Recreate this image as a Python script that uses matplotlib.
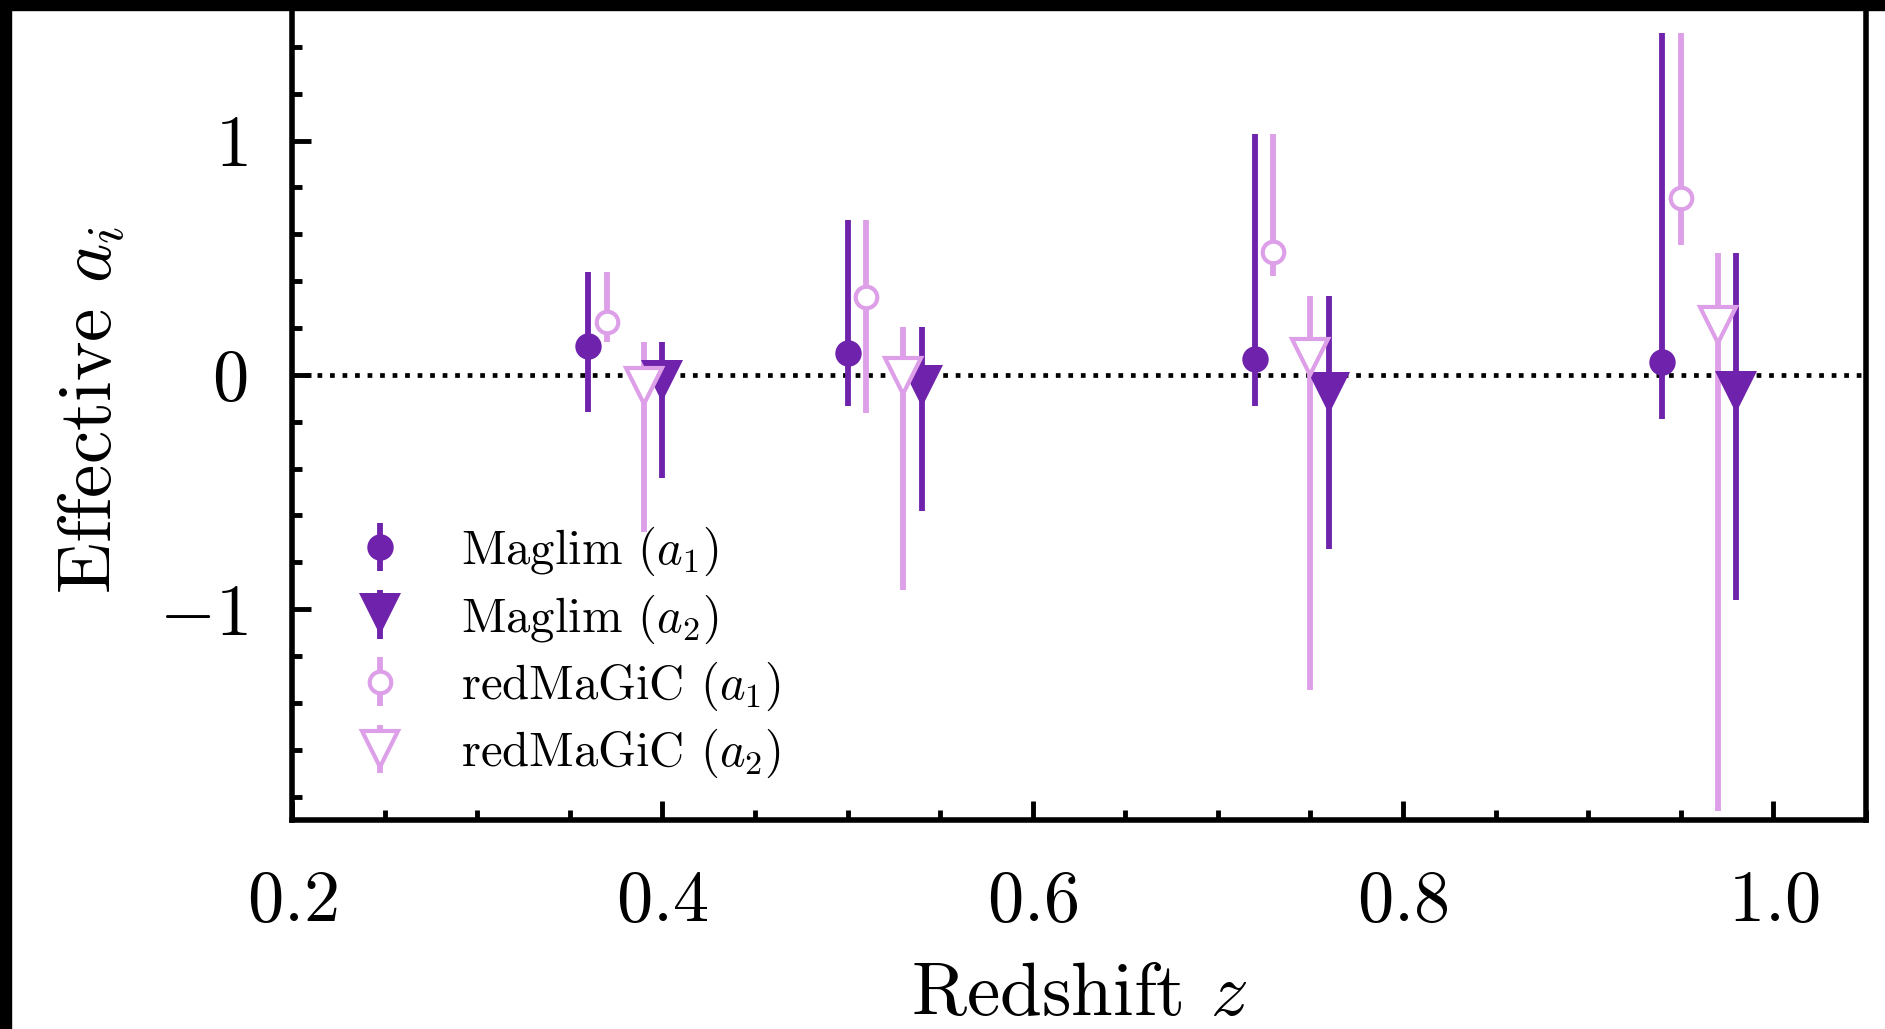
import numpy as np
import matplotlib
matplotlib.use("Agg")
import matplotlib.pyplot as plt
from matplotlib.patches import Rectangle
from matplotlib.ticker import MultipleLocator

plt.rcParams['font.family'] = 'serif'
plt.rcParams['font.serif'] = ['cmr10']
plt.rcParams['mathtext.fontset'] = 'cm'
plt.rcParams['axes.formatter.use_mathtext'] = True
plt.rcParams['axes.unicode_minus'] = True

dark = '#6f22ab'
light = '#dda0e8'

# effective a_i per redshift bin: central value, lower and upper end of bar
z_mag_a1 = np.array([0.36, 0.50, 0.72, 0.94])
y_mag_a1 = np.array([0.124, 0.094, 0.068, 0.055])
lo_mag_a1 = np.array([-0.16, -0.135, -0.134, -0.19])
hi_mag_a1 = np.array([0.44, 0.66, 1.03, 1.46])

z_mag_a2 = np.array([0.40, 0.54, 0.76, 0.98])
y_mag_a2 = np.array([-0.027, -0.046, -0.078, -0.075])
lo_mag_a2 = np.array([-0.44, -0.583, -0.743, -0.962])
hi_mag_a2 = np.array([0.14, 0.206, 0.337, 0.52])

z_red_a1 = np.array([0.37, 0.51, 0.73, 0.95])
y_red_a1 = np.array([0.227, 0.334, 0.526, 0.754])
lo_red_a1 = np.array([0.14, -0.163, 0.42, 0.553])
hi_red_a1 = np.array([0.44, 0.66, 1.03, 1.46])

z_red_a2 = np.array([0.39, 0.53, 0.75, 0.97])
y_red_a2 = np.array([-0.046, -0.004, 0.076, 0.214])
lo_red_a2 = np.array([-0.67, -0.917, -1.347, -1.862])
hi_red_a2 = np.array([0.14, 0.206, 0.337, 0.52])

fig = plt.figure(figsize=(18.85, 10.29), dpi=100)
ax = fig.add_axes([0.1549, 0.2031, 0.835, 0.7969])

ax.axhline(0, color='k', ls=':', lw=3.4, zorder=1)

ax.errorbar(z_mag_a1, y_mag_a1, yerr=[y_mag_a1 - lo_mag_a1, hi_mag_a1 - y_mag_a1],
            fmt='o', color=dark, ms=19, mew=0, elinewidth=4.2, capsize=0,
            label=r'Maglim ($a_1$)')
ax.errorbar(z_mag_a2, y_mag_a2, yerr=[y_mag_a2 - lo_mag_a2, hi_mag_a2 - y_mag_a2],
            fmt='v', color=dark, ms=30, mew=0, elinewidth=4.2, capsize=0,
            label=r'Maglim ($a_2$)')
ax.errorbar(z_red_a1, y_red_a1, yerr=[y_red_a1 - lo_red_a1, hi_red_a1 - y_red_a1],
            fmt='o', color=light, mfc='white', ms=15.5, mew=3, elinewidth=4.2,
            capsize=0, label=r'redMaGiC ($a_1$)')
ax.errorbar(z_red_a2, y_red_a2, yerr=[y_red_a2 - lo_red_a2, hi_red_a2 - y_red_a2],
            fmt='v', color=light, mfc='white', ms=26, mew=3, elinewidth=4.2,
            capsize=0, label=r'redMaGiC ($a_2$)')

ax.set_xlim(0.2, 1.05)
ax.set_ylim(-1.9, 1.6)
ax.xaxis.set_major_locator(MultipleLocator(0.2))
ax.xaxis.set_minor_locator(MultipleLocator(0.05))
ax.yaxis.set_major_locator(MultipleLocator(1))
ax.yaxis.set_minor_locator(MultipleLocator(0.2))
ax.xaxis.set_major_formatter(plt.FuncFormatter(lambda v, p: r'$%.1f$' % v))
ax.yaxis.set_major_formatter(plt.FuncFormatter(lambda v, p: r'$%d$' % round(v)))

ax.tick_params(which='both', direction='in', width=3.5, labelsize=52)
ax.tick_params(which='major', length=14)
ax.tick_params(which='minor', length=7)
ax.tick_params(axis='x', which='major', pad=36)
ax.tick_params(axis='y', which='major', pad=32)
for s in ax.spines.values():
    s.set_linewidth(4)

ax.set_xlabel(r'Redshift $z$', fontsize=54, labelpad=20)
ax.set_ylabel(r'Effective $a_i$', fontsize=54, labelpad=22)

ax.legend(loc='lower left', frameon=False, fontsize=35, labelspacing=0.29,
          handlelength=2.0, handletextpad=0.65, borderaxespad=0.42)

# black frame along the top and left edge of the picture
fig.add_artist(Rectangle((0, 1 - 10 / 1029), 1, 10 / 1029, transform=fig.transFigure,
                         color='k', zorder=10))
fig.add_artist(Rectangle((0, 0), 11 / 1885, 1, transform=fig.transFigure,
                         color='k', zorder=10))

fig.savefig('out.png', dpi=100)
